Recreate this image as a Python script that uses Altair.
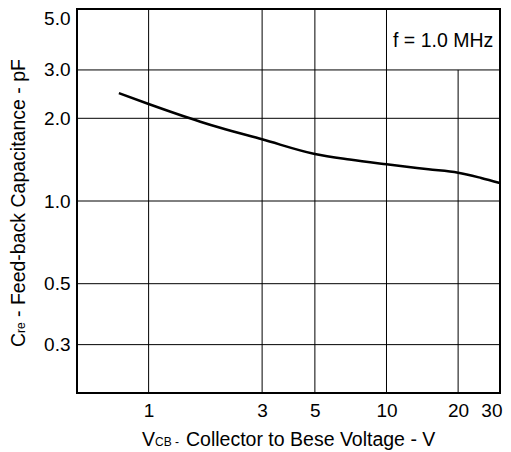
import altair as alt
import pandas as pd

# Curve: feedback capacitance vs collector-base voltage
vcb = [0.75, 1.0, 1.65, 2.0, 3.0, 5.0, 7.0, 10.0, 15.0, 20.0, 25.0, 30.0]
cre = [2.47, 2.255, 1.944, 1.847, 1.677, 1.483, 1.415, 1.36, 1.305, 1.268, 1.213, 1.163]

x_ticks = [1, 3, 5, 10, 20, 30]
y_ticks = [0.3, 0.5, 1.0, 2.0, 3.0, 5.0]

vgrid_x = [1, 3, 5, 10, 20]
vgrid_top = [5.0, 5.0, 5.0, 5.0, 3.0]
hgrid_y = [0.3, 0.5, 1.0, 2.0, 3.0]

x_domain = [0.5, 30]
y_domain = [0.2, 5.0]

FONT = "Liberation Sans"
W, H = 423, 384

xs = alt.Scale(type="log", domain=x_domain, nice=False)
ys = alt.Scale(type="log", domain=y_domain, nice=False)

x_axis = alt.Axis(values=x_ticks, format="~g", title=None, grid=False,
                  ticks=False, domain=False, labelFontSize=19,
                  labelPadding=8, labelFlush=True, labelFlushOffset=2,
                  labelColor="black", labelFont=FONT)
y_axis = alt.Axis(values=y_ticks, format=".1f", title=None, grid=False,
                  ticks=False, domain=False, labelFontSize=19,
                  labelPadding=7, labelFlush=True, labelFlushOffset=0,
                  labelColor="black", labelFont=FONT)

curve_df = pd.DataFrame({"vcb": vcb, "cre": cre})
vgrid_df = pd.DataFrame({"x": vgrid_x, "top": vgrid_top,
                         "bot": [y_domain[0]] * len(vgrid_x)})
hgrid_df = pd.DataFrame({"y": hgrid_y, "x0": [x_domain[0]] * len(hgrid_y),
                         "x1": [x_domain[1]] * len(hgrid_y)})

vgrid = alt.Chart(vgrid_df).mark_rule(color="black", strokeWidth=1).encode(
    x=alt.X("x:Q", scale=xs, axis=x_axis),
    y=alt.Y("bot:Q", scale=ys, axis=y_axis),
    y2="top:Q",
)
hgrid = alt.Chart(hgrid_df).mark_rule(color="black", strokeWidth=1).encode(
    y=alt.Y("y:Q", scale=ys, axis=y_axis),
    x=alt.X("x0:Q", scale=xs, axis=x_axis),
    x2="x1:Q",
)

line = alt.Chart(curve_df).mark_line(color="black", strokeWidth=2.5,
                                     interpolate="monotone").encode(
    x=alt.X("vcb:Q", scale=xs, axis=x_axis),
    y=alt.Y("cre:Q", scale=ys, axis=y_axis),
)

one = pd.DataFrame({"k": [0]})


def txt(s, x, y, size, angle=0):
    m = alt.Chart(one).mark_text(text=s, align="left", baseline="alphabetic",
                                 fontSize=size, font=FONT, color="black",
                                 angle=angle)
    return m.encode(x=alt.value(x), y=alt.value(y))


texts = [
    txt("V", 65, 437, 19.5),
    txt("CB -", 78, 437, 12),
    txt("Collector to Bese Voltage - V", 109, 437, 19.5),
    txt("C", -52, 338, 19.5, 270),
    txt("re", -52, 324, 12, 270),
    txt("- Feed-back Capacitance - pF", -52, 308, 19.5, 270),
    txt("f = 1.0 MHz", 316, 38, 19.5),
]

chart = alt.layer(vgrid, hgrid, line, *texts).properties(
    width=W, height=H,
    autosize=alt.AutoSizeParams(type="none"),
    padding={"left": 69, "top": 1, "right": 3, "bottom": 59},
    background="white",
).configure(font=FONT).configure_view(stroke="black", strokeWidth=2)

chart.save("out.html", embed_options={"renderer": "svg", "actions": False})
